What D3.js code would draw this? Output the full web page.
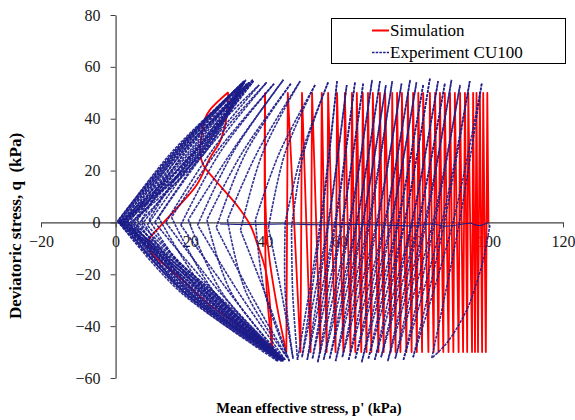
<!DOCTYPE html>
<html>
<head>
<meta charset="utf-8">
<script src="https://cdn.jsdelivr.net/npm/d3@7"></script>
<style>
  body { margin: 0; background: #fff; }
  svg { display: block; }
</style>
</head>
<body>
<svg id="chart" width="575" height="420"></svg>
<script>
// ---------------- axis ticks ----------------
const xMajorTicks = [-20, 0, 20, 40, 60, 80, 100, 120];
const yMajorTicks = [-60, -40, -20, 0, 20, 40, 60, 80];
const minorStep = 4;

// ---------------- simulation (kPa) ----------------
// p' at each compression peak (q = +50) and extension trough (q = -50)
const simAmplitude = 50;
const simStart = [100.0, 0];
const simTop = [99.7, 98.6, 97.7, 96.8, 95.9, 94.6, 93.7, 92.4, 91.0, 89.7, 88.3, 87.0,
                85.7, 84.3, 82.5, 81.2, 79.8, 78.4, 76.8, 75.5, 74.2, 72.3, 70.9, 69.0,
                67.7, 66.3, 64.7, 63.4, 61.5, 59.4, 57.0, 55.3, 52.7, 50.0, 46.2];
const simBottom = [99.3, 98.3, 97.2, 96.4, 95.6, 94.3, 93.2, 92.0, 90.6, 89.3, 87.9, 86.6,
                   85.3, 83.9, 82.2, 80.8, 79.4, 78.0, 76.4, 75.1, 73.8, 71.9, 70.5, 68.6,
                   67.3, 65.9, 64.3, 63.0, 61.1, 59.0, 56.6, 54.9, 52.3, 49.6, 45.8];
// final cycles, where the path leaves the vertical band (p', q)
const simLastLoading = [[45.8, -50], [43.0, -30], [40.6, -5], [40.1, 50]];
const simLastUnloading = [[40.1, 50], [40.0, 10], [40.5, -25], [42.1, -49.8]];
const simButterflyLoading = [[42.1, -49.8], [40.5, -20.2], [37.8, -7.4], [36.1, -1], [32.5, 6.7],
                             [27.1, 15.7], [23.5, 22.2], [22.7, 27.3], [23.1, 33.7], [24.0, 40.0],
                             [25.3, 43.4], [30.2, 50.2]];
const simButterflyUnloading = [[30.2, 50.2], [30.0, 44.0], [29.4, 37.6], [28.0, 31.2], [25.3, 24.8],
                               [21.8, 14.5], [16.4, 5.5], [11.9, -1.6], [9.2, -6.1], [8.8, -8.0],
                               [10.1, -12.5], [16.4, -20.2], [25.3, -31.8], [34.3, -40.8], [39.6, -46.0]];

// ---------------- experiment CU100 (kPa) ----------------
const expBaseline = [[28.0, -0.6], [36, -0.8], [45, -0.6], [55, -0.9], [65, -0.8], [72, -1.0],
                     [80, -1.3], [85, -0.6], [88, -1.4], [92, -0.9], [95, -0.3], [97.5, -1.2], [100.0, 0]];
const expFirstExtension = [[100.4, -1], [98.6, -14.5], [96.8, -23.4], [94.2, -33.7], [88.8, -46.6], [84.8, -52.3]];
// early cycles: peak p' and q, trough p' and q, and p' where each branch crosses q = 0
const expTop = [98.2, 95.0, 92.4, 90.1, 88.3, 86.5, 84.3, 82.5, 80.7, 79.0, 76.7, 74.2,
                72.5, 70.9, 68.8, 66.4, 64.2, 62.0, 59.4];
const expTopQ = [53.5, 54.5, 53.0, 55.0, 53.5, 54.5, 55.5, 53.0, 54.0, 55.0, 53.5, 54.5,
                 53.0, 54.5, 55.0, 53.5, 54.0, 53.0, 54.5];
const expBottom = [84.8, 79.8, 77.2, 75.0, 73.0, 71.2, 69.5, 67.8, 66.0, 64.3, 62.5, 60.8,
                   59.0, 57.4, 55.8, 54.2, 52.8, 51.4, 50.0, 48.8];
const expBottomQ = [-52.3, -52.0, -53.0, -52.5, -53.5, -52.0, -53.0, -52.5, -54.0, -52.5, -53.0, -52.0,
                    -53.5, -52.5, -53.0, -54.0, -52.5, -53.0, -52.0, -53.0];
const expLoadMid = [92.2, 88.2, 85.6, 83.3, 81.4, 79.6, 77.6, 75.9, 74.1, 72.4, 70.3, 68.2,
                    66.4, 64.8, 63.0, 60.9, 59.1, 57.2, 55.2];
const expUnloadMid = [90.5, 87.5, 85.1, 82.9, 81.1, 79.4, 77.4, 75.6, 73.8, 72.1, 70.0, 67.8,
                      66.2, 64.6, 62.7, 60.7, 58.8, 57.0, 54.9];
// later cycles (cyclic mobility): peaks, troughs, knees near q = 0, and p' at q = +/-27
const lateTop = [57.0, 53.5, 49.5, 47.0, 45.0, 42.5, 40.5, 38.5,
                 37.0, 36.4, 35.8, 36.8, 35.2, 34.6, 35.6, 34.2, 35.0, 33.8, 34.6, 33.6, 34.4, 33.9];
const lateTopQ = [54.0, 53.0, 54.5, 53.5, 55.0, 53.5, 54.0, 53.0,
                  54.5, 53.5, 54.0, 55.0, 53.5, 54.5, 53.0, 54.0, 55.0, 53.5, 54.0, 53.0, 54.5, 53.5];
const lateBottom = [48.8, 47.6, 46.6, 46.0, 45.5, 45.0, 44.8, 44.5,
                    44.2, 44.8, 44.0, 45.0, 43.6, 44.5, 43.8, 45.2, 44.0, 43.5, 44.6, 43.9, 44.3, 43.7, 44.0];
const lateBottomQ = [-53.0, -52.5, -53.5, -52.0, -53.0, -53.5, -52.5, -53.0,
                     -52.0, -53.5, -52.5, -53.0, -52.0, -53.5, -52.5, -53.0, -52.0, -53.5, -52.5, -53.0, -52.0, -53.0, -52.5];
const lateLoadLower = [47.5, 44.5, 40.0, 36.0, 33.0, 30.5, 28.0, 26.5,
                       24.5, 25.5, 24.0, 26.0, 23.5, 25.0, 22.5, 26.5, 24.0, 23.0, 25.5, 22.0, 24.5, 23.0];
const lateLoadKnee = [[47.2, -2], [41.0, -2], [33.5, -3], [27.0, -2], [22.0, -1], [17.5, -1], [13.5, 0], [10.5, 0],
                      [8.5, -1], [7.0, -1], [5.8, -1], [5.0, -0.5], [4.2, -0.5], [3.6, -0.5], [3.0, 0], [2.6, 0],
                      [2.2, 0], [1.9, 0], [1.6, 0], [1.3, 0], [1.1, 0], [0.9, 0]];
const lateLoadUpper = [50.5, 45.5, 39.5, 35.0, 31.5, 28.0, 25.5, 23.5,
                       22.5, 21.5, 23.0, 20.5, 22.0, 24.0, 21.0, 23.0, 20.0, 22.5, 21.5, 19.5, 23.5, 21.0];
const lateUnloadUpper = [50.0, 44.0, 38.0, 34.0, 31.0, 27.0, 24.0, 21.0,
                         18.5, 17.8, 18.8, 17.0, 18.0, 16.5, 17.5, 16.0, 17.0, 15.5, 16.5, 15.0, 16.0, 15.5];
const lateUnloadKnee = [[45.5, 0], [37.5, 1], [30.0, 1], [24.5, 1], [19.5, 1], [15.0, 2], [11.5, 2], [9.0, 1],
                        [7.0, 1], [5.8, 1], [4.8, 0.5], [4.0, 0.5], [3.3, 0.5], [2.8, 0.5], [2.4, 0.5], [2.0, 0.5],
                        [1.6, 0.5], [1.3, 0.5], [1.0, 0.5], [0.8, 0.5], [0.6, 0.5], [0.5, 0.5]];
const lateUnloadLower = [45.5, 40.0, 35.0, 31.0, 28.5, 26.5, 24.5, 23.0,
                         21.0, 20.0, 19.5, 21.5, 18.5, 20.5, 19.0, 21.0, 18.0, 20.0, 18.5, 19.5, 17.5, 18.5];

const legendLabels = ["Simulation", "Experiment CU100"];
const simColor = "#ff0000";
const expColor = "#1c1c8a";

// ---------------- scales ----------------
const svg = d3.select("#chart");
const x = d3.scaleLinear().domain([-20, 120]).range([41, 563]);
const y = d3.scaleLinear().domain([-60, 80]).range([378, 15]);

svg.append("rect").attr("width", 575).attr("height", 420).attr("fill", "#fff");

// ---------------- axes ----------------
const fontSerif = "Liberation Serif, Times New Roman, serif";
const xMinor = d3.range(-20, 120 + 0.001, minorStep);
const yMinor = d3.range(-60, 80 + 0.001, minorStep);

const gx = svg.append("g").attr("transform", `translate(0,${y(0)})`);
gx.call(d3.axisBottom(x).tickValues(xMinor).tickSize(4).tickSizeOuter(0).tickFormat(""));
gx.call(d3.axisBottom(x).tickValues(xMajorTicks).tickSize(5).tickSizeOuter(0).tickPadding(8).tickFormat(d3.format("d")));

const gy = svg.append("g").attr("transform", `translate(${x(0)},0)`);
gy.call(d3.axisLeft(y).tickValues(yMinor).tickSize(4).tickSizeOuter(0).tickFormat(""));
gy.call(d3.axisLeft(y).tickValues(yMajorTicks).tickSize(5).tickSizeOuter(0).tickPadding(10).tickFormat(d3.format("d")));

[gx, gy].forEach(g => {
  g.attr("font-family", fontSerif).attr("font-size", 16);
  g.selectAll(".domain").attr("stroke", "#404040").attr("stroke-width", 1.2);
  g.selectAll(".tick line").attr("stroke", "#404040");
  g.selectAll("text").attr("font-family", fontSerif).attr("font-size", 16).attr("fill", "#1a1a1a");
});

// ---------------- series ----------------
const smooth = d3.line().x(d => x(d[0])).y(d => y(d[1])).curve(d3.curveCatmullRom.alpha(0.5));
const straight = d3.line().x(d => x(d[0])).y(d => y(d[1]));

// simulation: zig-zag between peaks and troughs, then the final butterfly loops
const simPath = [simStart];
simTop.forEach((p, i) => {
  simPath.push([p, simAmplitude]);
  simPath.push([simBottom[i], -simAmplitude]);
});
const gSim = svg.append("g").attr("fill", "none").attr("stroke", simColor)
  .attr("stroke-width", 1.8).attr("stroke-linejoin", "round");
gSim.append("path").attr("d", straight(simPath));
[simLastLoading, simLastUnloading, simButterflyLoading, simButterflyUnloading].forEach(seg => {
  gSim.append("path").attr("d", smooth(seg));
});

// experiment: each half cycle drawn as its own dashed branch;
// later branches turn sharply at the knee, so each side of the knee is smoothed on its own
const expBranches = [expFirstExtension];
expTop.forEach((t, i) => {
  expBranches.push([[expBottom[i], expBottomQ[i]], [expLoadMid[i], 0], [t, expTopQ[i]]]);
  expBranches.push([[t, expTopQ[i]], [expUnloadMid[i], 0], [expBottom[i + 1], expBottomQ[i + 1]]]);
});
lateTop.forEach((t, j) => {
  const top = [t, lateTopQ[j]];
  const bottomA = [lateBottom[j], lateBottomQ[j]];
  const bottomB = [lateBottom[j + 1], lateBottomQ[j + 1]];
  expBranches.push([bottomA, [lateLoadLower[j], -27], lateLoadKnee[j]]);
  expBranches.push([lateLoadKnee[j], [lateLoadUpper[j], 27], top]);
  expBranches.push([top, [lateUnloadUpper[j], 27], lateUnloadKnee[j]]);
  expBranches.push([lateUnloadKnee[j], [lateUnloadLower[j], -27], bottomB]);
});
const gExp = svg.append("g").attr("fill", "none").attr("stroke", expColor)
  .attr("stroke-width", 1.6).attr("stroke-dasharray", "3,1").attr("stroke-opacity", 0.9);
expBranches.forEach(b => gExp.append("path").attr("d", smooth(b)));
svg.append("path").attr("d", smooth(expBaseline)).attr("fill", "none")
  .attr("stroke", expColor).attr("stroke-width", 1.1);

// ---------------- legend ----------------
const lg = svg.append("g");
lg.append("rect").attr("x", 331.5).attr("y", 18.5).attr("width", 234).attr("height", 45)
  .attr("fill", "#fff").attr("stroke", "#000").attr("stroke-width", 1);
lg.append("line").attr("x1", 372).attr("x2", 389).attr("y1", 30.5).attr("y2", 30.5)
  .attr("stroke", simColor).attr("stroke-width", 2);
lg.append("line").attr("x1", 372).attr("x2", 389).attr("y1", 52.5).attr("y2", 52.5)
  .attr("stroke", expColor).attr("stroke-width", 1.3).attr("stroke-dasharray", "2.5,1.2");
lg.selectAll("text.lab").data(legendLabels).join("text").attr("class", "lab")
  .attr("x", 390).attr("y", (d, i) => 36 + i * 21.5)
  .attr("font-family", fontSerif).attr("font-size", 17).attr("fill", "#000").text(d => d);

// ---------------- axis titles ----------------
svg.append("text").attr("x", 309).attr("y", 413).attr("text-anchor", "middle")
  .attr("font-family", fontSerif).attr("font-size", 14.5).attr("font-weight", "bold")
  .text("Mean effective stress, p' (kPa)");
svg.append("text").attr("transform", "translate(21,226) rotate(-90)").attr("text-anchor", "middle")
  .attr("font-family", fontSerif).attr("font-size", 17).attr("font-weight", "bold")
  .style("white-space", "pre")
  .text("Deviatoric stress, q  (kPa)");
</script>
</body>
</html>
